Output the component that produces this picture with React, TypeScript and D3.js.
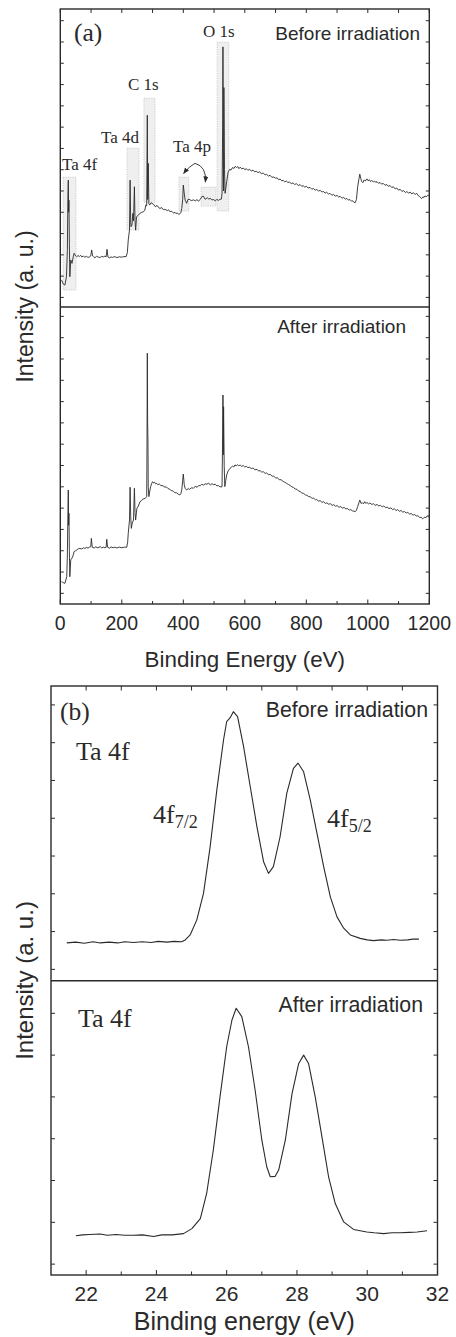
import React from 'react';
import * as d3 from 'd3';

type Pt = [number, number];

// ---------- (a) survey spectra: [binding energy eV, intensity a.u.] ----------
const surveyBefore: Pt[] = [
  [4,1.82],[10,1.62],[15,1.58],[20,1.97],[23,3.2],[24.5,5.5],[26,6.51],[27,5.0],[28,5.57],[29.5,3.5],[31,1.97],
  [34,2.76],[38,2.60],[42,2.9],[45,3.07],[50,2.95],[53,2.91],[58,2.97],[62,2.92],[66,2.98],[70,2.90],[75,2.94],
  [80,2.89],[85,2.93],[90,2.88],[96,2.91],[99,2.95],[102,3.23],[105,2.95],[108,2.91],[113,2.87],[118,2.93],
  [124,2.89],[130,2.88],[135,2.93],[140,2.9],[145,2.94],[149,2.91],[152,3.26],[155,2.9],[160,2.86],[165,2.9],
  [170,2.88],[177,2.92],[184,2.87],[192,2.91],[200,2.89],[207,2.92],[214,2.91],[218,3.1],[221,3.70],[225,4.16],
  [227,6.51],[229,4.5],[230,4.32],[233,4.4],[236,4.95],[238,4.6],[241,6.20],[243,4.6],[245,4.16],[248,4.79],
  [253,4.85],[259,4.95],[265,5.0],[270,5.02],[275,5.1],[278,5.34],[281,5.3],[283,9.56],[284,5.6],[286,7.30],
  [288,5.4],[291,5.34],[295,5.45],[298,5.42],[303,5.38],[309,5.26],[315,5.32],[320,5.22],[324,5.18],[330,5.22],
  [335,5.12],[340,5.14],[348,5.08],[352,5.12],[357,5.02],[361,5.06],[365,5.0],[369,4.96],[373,5.0],[377,4.93],
  [380,4.98],[385,4.9],[389,4.93],[392,4.98],[395,5.18],[398,5.6],[400,6.28],[403,5.9],[406,5.57],[411,5.42],
  [415,5.6],[419,5.61],[426,5.55],[433,5.58],[440,5.54],[445,5.6],[449,5.52],[455,5.6],[460,5.73],[465,5.76],
  [471,5.61],[478,5.68],[483,5.62],[487,5.66],[493,5.58],[498,5.6],[504,5.54],[509,5.6],[515,5.56],[519,5.61],
  [524,5.62],[526,5.89],[528,9.0],[529,12.77],[530,8.0],[531,6.0],[532,10.86],[534,7.0],[536,5.89],[541,6.43],
  [546,6.90],[551,7.02],[555,6.98],[560,7.1],[565,7.06],[569,7.16],[573,7.1],[577,7.15],[581,7.05],[585,7.12],
  [590,7.04],[595,7.08],[600,7.0],[605,7.05],[610,6.97],[615,7.02],[621,6.94],[627,6.98],[632,6.9],[637,6.93],
  [643,6.86],[648,6.9],[654,6.82],[660,6.84],[666,6.76],[671,6.78],[677,6.7],[682,6.74],[688,6.64],[694,6.66],
  [700,6.6],[705,6.62],[710,6.53],[715,6.56],[720,6.48],[725,6.5],[730,6.43],[735,6.47],[740,6.4],[745,6.42],
  [751,6.35],[757,6.38],[762,6.31],[768,6.34],[774,6.26],[780,6.3],[785,6.22],[790,6.25],[795,6.18],[800,6.22],
  [806,6.14],[812,6.17],[818,6.08],[823,6.12],[829,6.04],[834,6.07],[840,6.0],[845,6.03],[851,5.95],[856,5.98],
  [861,5.9],[866,5.94],[872,5.86],[877,5.89],[883,5.8],[888,5.84],[894,5.76],[900,5.79],[905,5.72],[910,5.75],
  [916,5.66],[921,5.7],[927,5.62],[932,5.65],[937,5.57],[942,5.6],[947,5.52],[951,5.54],[955,5.47],[959,5.45],
  [963,5.6],[967,6.20],[971,6.55],[974,6.79],[977,6.6],[980,6.45],[984,6.39],[988,6.52],[992,6.47],[997,6.57],
  [1001,6.48],[1005,6.53],[1009,6.44],[1013,6.5],[1018,6.42],[1022,6.47],[1026,6.4],[1030,6.44],[1035,6.36],
  [1040,6.4],[1045,6.32],[1050,6.36],[1056,6.27],[1062,6.3],[1067,6.22],[1072,6.26],[1078,6.16],[1083,6.2],
  [1089,6.1],[1094,6.14],[1100,6.04],[1105,6.08],[1111,5.98],[1116,6.02],[1122,5.93],[1127,5.97],[1133,5.9],
  [1138,5.95],[1143,5.86],[1148,5.92],[1154,5.84],[1159,5.89],[1164,5.78],[1168,5.75],[1172,5.68],[1175,5.64],
  [1179,5.72],[1183,5.7],[1186,5.77],[1190,5.73],[1195,5.79],[1200,5.81],
];

const surveyAfter: Pt[] = [
  [4,1.55],[10,1.5],[15,1.47],[21,1.78],[23,2.8],[24.5,4.5],[26,5.85],[27,4.2],[28,4.76],[29.5,3.0],[31,1.78],
  [34,2.57],[40,2.7],[45,2.96],[50,3.0],[55,3.05],[60,3.1],[64,3.11],[70,3.08],[75,3.14],[80,3.11],[86,3.16],
  [90,3.12],[95,3.17],[99,3.19],[101,3.58],[104,3.16],[110,3.13],[115,3.18],[122,3.14],[130,3.19],[135,3.13],
  [140,3.17],[145,3.14],[149,3.16],[151,3.54],[154,3.16],[160,3.12],[165,3.18],[172,3.14],[178,3.17],[184,3.13],
  [192,3.17],[200,3.14],[208,3.17],[216,3.16],[219,3.4],[221,3.82],[225,4.44],[227,5.98],[229,4.6],[231,4.05],
  [234,4.3],[238,4.44],[241,5.93],[243,4.8],[245,4.44],[249,4.99],[254,5.1],[259,5.30],[264,5.35],[268,5.42],
  [272,5.44],[276,5.46],[281,5.54],[282,8.0],[283,12.27],[284,9.0],[285,8.20],[286,6.0],[288,5.54],[291,5.8],
  [294,6.01],[297,6.15],[300,6.24],[303,6.18],[306,6.22],[310,6.14],[313,6.17],[317,6.1],[322,6.13],[327,6.06],
  [334,6.05],[340,5.98],[345,6.0],[350,5.92],[356,5.88],[362,5.82],[367,5.8],[372,5.73],[378,5.72],[384,5.65],
  [389,5.62],[392,5.68],[395,5.85],[398,6.3],[400,6.60],[403,6.1],[406,5.93],[411,5.85],[416,5.92],[420,5.88],
  [426,5.95],[433,5.94],[439,6.02],[445,5.98],[450,6.06],[455,6.05],[460,6.12],[466,6.08],[471,6.14],[477,6.12],
  [482,6.18],[488,6.08],[493,6.15],[498,6.1],[504,6.12],[509,6.04],[514,6.06],[519,6.0],[526,6.0],[528,8.5],
  [529,10.31],[530,7.5],[531,9.76],[533,7.0],[535,6.01],[538,6.3],[541,6.56],[546,6.75],[552,6.87],[556,6.92],
  [560,6.97],[564,6.93],[568,7.03],[572,6.98],[576,7.04],[580,6.99],[585,7.02],[590,6.96],[595,7.0],[600,6.93],
  [605,6.96],[610,6.9],[615,6.92],[621,6.86],[627,6.88],[633,6.8],[640,6.82],[645,6.74],[650,6.76],[655,6.69],
  [660,6.71],[666,6.63],[671,6.65],[677,6.57],[683,6.58],[689,6.5],[694,6.5],[700,6.42],[706,6.42],[712,6.34],
  [718,6.33],[725,6.25],[730,6.22],[736,6.16],[742,6.11],[748,6.06],[753,6.0],[758,5.97],[764,5.9],[770,5.88],
  [775,5.8],[780,5.78],[786,5.7],[791,5.69],[797,5.62],[802,5.6],[808,5.54],[813,5.53],[819,5.46],[824,5.47],
  [830,5.39],[834,5.4],[840,5.33],[845,5.35],[851,5.27],[856,5.3],[862,5.22],[867,5.25],[873,5.18],[878,5.21],
  [884,5.13],[889,5.16],[895,5.09],[900,5.12],[906,5.04],[912,5.07],[918,5.0],[923,5.03],[929,4.96],[934,4.98],
  [940,4.91],[945,4.93],[950,4.87],[955,4.86],[959,4.83],[963,4.9],[967,5.07],[971,5.25],[974,5.38],[978,5.22],
  [982,5.26],[986,5.2],[990,5.3],[994,5.22],[997,5.27],[1002,5.2],[1007,5.24],[1013,5.17],[1018,5.21],[1024,5.13],
  [1030,5.17],[1036,5.1],[1041,5.13],[1047,5.06],[1052,5.1],[1058,5.02],[1063,5.05],[1069,4.98],[1075,5.01],
  [1081,4.93],[1086,4.97],[1092,4.89],[1097,4.93],[1103,4.85],[1108,4.89],[1114,4.81],[1119,4.84],[1125,4.77],
  [1130,4.8],[1136,4.72],[1141,4.75],[1147,4.67],[1152,4.7],[1158,4.63],[1163,4.64],[1169,4.56],[1174,4.57],
  [1178,4.5],[1181,4.52],[1185,4.58],[1189,4.55],[1193,4.64],[1197,4.6],[1200,4.68],
];

// ---------- (b) Ta 4f core level: [binding energy eV, intensity a.u.] ----------
const ta4fBefore: Pt[] = [
  [21.45,1.70],[21.7,1.72],[21.95,1.69],[22.2,1.73],[22.4,1.70],[22.65,1.72],[22.9,1.70],[23.1,1.73],[23.35,1.71],
  [23.6,1.73],[23.85,1.71],[24.05,1.74],[24.3,1.72],[24.5,1.74],[24.72,1.73],[24.82,1.78],[24.96,1.91],[25.15,2.31],
  [25.34,3.01],[25.53,4.25],[25.72,5.75],[25.91,7.07],[26.0,7.56],[26.1,7.66],[26.19,7.82],[26.31,7.69],[26.48,6.90],
  [26.67,5.84],[26.86,4.78],[27.05,3.85],[27.19,3.54],[27.33,3.72],[27.52,4.51],[27.71,5.66],[27.9,6.32],[28.03,6.46],
  [28.19,6.23],[28.38,5.48],[28.57,4.60],[28.76,3.72],[28.95,2.92],[29.14,2.39],[29.33,2.09],[29.52,1.91],[29.8,1.82],
  [30.0,1.78],[30.18,1.76],[30.4,1.78],[30.56,1.77],[30.75,1.79],[30.94,1.77],[31.15,1.78],[31.3,1.80],[31.47,1.80],
];

const ta4fAfter: Pt[] = [
  [21.71,1.68],[21.9,1.70],[22.1,1.71],[22.4,1.72],[22.6,1.69],[22.85,1.71],[23.1,1.69],[23.35,1.69],[23.6,1.70],
  [23.92,1.66],[24.15,1.70],[24.45,1.70],[24.77,1.73],[25.01,1.85],[25.25,2.09],[25.43,2.69],[25.62,3.73],[25.81,5.00],
  [26.0,6.20],[26.15,6.84],[26.27,7.12],[26.43,6.92],[26.62,6.20],[26.81,5.16],[27.0,3.97],[27.14,3.33],[27.24,3.09],
  [27.38,3.10],[27.48,3.25],[27.67,3.97],[27.86,5.08],[28.05,5.80],[28.19,6.00],[28.33,5.80],[28.52,5.00],[28.71,4.05],
  [28.9,3.09],[29.09,2.45],[29.33,2.01],[29.61,1.83],[29.99,1.77],[30.2,1.75],[30.47,1.73],[30.7,1.75],[30.94,1.75],
  [31.2,1.76],[31.42,1.77],[31.7,1.80],
];

// ---------- ticks ----------
const surveyMajorTicks = [0, 200, 400, 600, 800, 1000, 1200];
const surveyMinorTicks = [100, 300, 500, 700, 900, 1100];
const surveyYTicks = [1, 2, 3, 4, 5, 6, 7, 8, 9, 10, 11, 12, 13, 14];
const ta4fMajorTicks = [22, 24, 26, 28, 30, 32];
const ta4fMinorTicks = [23, 25, 27, 29, 31];
const ta4fYTicksTop = [1, 2, 3, 4, 5, 6, 7, 8];
const ta4fYTicksBottom = [1, 2, 3, 4, 5, 6, 7];

// ---------- annotations (data units of panel a, top) ----------
const peakBoxes = [
  { name: 'Ta 4f', e0: 9, e1: 51, v0: 1.35, v1: 6.65 },
  { name: 'Ta 4d', e0: 217, e1: 256, v0: 4.17, v1: 8.01 },
  { name: 'C 1s', e0: 272, e1: 308, v0: 5.48, v1: 10.36 },
  { name: 'Ta 4p a', e0: 386, e1: 418, v0: 5.06, v1: 6.65 },
  { name: 'Ta 4p b', e0: 458, e1: 506, v0: 5.29, v1: 6.18 },
  { name: 'O 1s', e0: 510, e1: 548, v0: 5.06, v1: 12.99 },
];
const peakLabels = [
  { text: 'Ta 4f', x: 62, y: 170 },
  { text: 'Ta 4d', x: 101, y: 143 },
  { text: 'C 1s', x: 128, y: 90 },
  { text: 'Ta 4p', x: 173, y: 152 },
  { text: 'O 1s', x: 203, y: 37 },
];
const arrowApex: Pt = [438, 7.3];
const arrowLeftEnd: Pt = [401, 6.82];
const arrowRightCtrl: Pt = [476, 7.15];
const arrowRightEnd: Pt = [472, 6.42];

const SANS = '"Liberation Sans", Arial, sans-serif';
const SERIF = '"Liberation Serif", "Times New Roman", serif';
const INK = '#2a2a2a';

type SubProps = {
  x: d3.ScaleLinear<number, number>;
  y: d3.ScaleLinear<number, number>;
  data: Pt[];
  yTicks: number[];
  major: number[];
  minor: number[];
  top: number;
  bottom: number;
  left: number;
  right: number;
  topTicks: boolean;
  bottomTicks: boolean;
  yTickLen: number;
  majLen: number;
  minLen: number;
  lineWidth: number;
};

function SubPlot(p: SubProps) {
  const line = d3
    .line<Pt>()
    .x((d) => p.x(d[0]))
    .y((d) => p.y(d[1]));
  const allX = [...p.major, ...p.minor];
  return (
    <g>
      <path d={line(p.data) || ''} fill="none" stroke={INK} strokeWidth={p.lineWidth} strokeLinejoin="round" />
      {p.yTicks.map((t) => (
        <g key={'y' + t}>
          <line x1={p.left} x2={p.left + p.yTickLen} y1={p.y(t)} y2={p.y(t)} stroke={INK} strokeWidth={1} />
          <line x1={p.right - p.yTickLen} x2={p.right} y1={p.y(t)} y2={p.y(t)} stroke={INK} strokeWidth={1} />
        </g>
      ))}
      {p.topTicks &&
        allX.map((t) => (
          <line key={'t' + t} x1={p.x(t)} x2={p.x(t)} y1={p.top} y2={p.top + p.minLen + 1} stroke={INK} strokeWidth={1} />
        ))}
      {p.bottomTicks &&
        p.major.map((t) => (
          <line key={'M' + t} x1={p.x(t)} x2={p.x(t)} y1={p.bottom} y2={p.bottom - p.majLen} stroke={INK} strokeWidth={1} />
        ))}
      {p.bottomTicks &&
        p.minor.map((t) => (
          <line key={'m' + t} x1={p.x(t)} x2={p.x(t)} y1={p.bottom} y2={p.bottom - p.minLen} stroke={INK} strokeWidth={1} />
        ))}
    </g>
  );
}

export default function App() {
  const W = 456;
  const H = 1337;

  // panel (a)
  const aL = 60.3, aR = 429.3, aT = 9, aM = 307, aB = 604;
  const ax = d3.scaleLinear().domain([0, 1200]).range([aL, aR]);
  const ayTop = d3.scaleLinear().domain([0.55, 14.55]).range([aM, aT]);
  const ayBot = d3.scaleLinear().domain([0.5, 14.44]).range([aB, aM]);

  // panel (b)
  const bL = 51, bR = 437.5, bT = 686, bM = 980.7, bB = 1275;
  const bx = d3.scaleLinear().domain([21, 32]).range([bL, bR]);
  const byTop = d3.scaleLinear().domain([0.7, 8.5]).range([bM, bT]);
  const byBot = d3.scaleLinear().domain([0.74, 7.78]).range([bB, bM]);

  const frameW = 1.4;

  return (
    <div style={{ position: 'absolute', left: 0, top: 0 }}>
      <svg width={W} height={H} viewBox={`0 0 ${W} ${H}`} style={{ display: 'block', background: '#fff' }}>
        <defs>
          <marker id="ah" viewBox="0 0 10 10" refX="9" refY="5" markerWidth="7" markerHeight="7" orient="auto-start-reverse">
            <path d="M0,1 L10,5 L0,9 Z" fill={INK} />
          </marker>
        </defs>

        {/* ---- panel (a) boxes ---- */}
        {peakBoxes.map((b) => (
          <rect
            key={b.name}
            x={ax(b.e0)}
            y={ayTop(b.v1)}
            width={ax(b.e1) - ax(b.e0)}
            height={ayTop(b.v0) - ayTop(b.v1)}
            fill="#efefef"
            stroke="#c4c4c4"
            strokeWidth={0.8}
            strokeDasharray="1.2,1.2"
          />
        ))}

        <SubPlot x={ax} y={ayTop} data={surveyBefore} yTicks={surveyYTicks} major={surveyMajorTicks} minor={surveyMinorTicks}
          top={aT} bottom={aM} left={aL} right={aR} topTicks={true} bottomTicks={false} yTickLen={3.5} majLen={4.5} minLen={3} lineWidth={0.9} />
        <SubPlot x={ax} y={ayBot} data={surveyAfter} yTicks={surveyYTicks} major={surveyMajorTicks} minor={surveyMinorTicks}
          top={aM} bottom={aB} left={aL} right={aR} topTicks={false} bottomTicks={true} yTickLen={3.5} majLen={4.5} minLen={3} lineWidth={0.9} />

        <rect x={aL} y={aT} width={aR - aL} height={aB - aT} fill="none" stroke={INK} strokeWidth={frameW} />
        <line x1={aL} x2={aR} y1={aM} y2={aM} stroke={INK} strokeWidth={frameW} />

        {/* arrows */}
        <path
          d={`M${ax(arrowApex[0])},${ayTop(arrowApex[1])} Q${ax(arrowApex[0]) - 6},${ayTop(arrowApex[1]) + 3} ${ax(arrowLeftEnd[0])},${ayTop(arrowLeftEnd[1])}`}
          fill="none" stroke={INK} strokeWidth={0.9} markerEnd="url(#ah)" />
        <path
          d={`M${ax(arrowApex[0])},${ayTop(arrowApex[1])} Q${ax(arrowRightCtrl[0])},${ayTop(arrowRightCtrl[1])} ${ax(arrowRightEnd[0])},${ayTop(arrowRightEnd[1])}`}
          fill="none" stroke={INK} strokeWidth={0.9} markerEnd="url(#ah)" />

        {peakLabels.map((l) => (
          <text key={l.text} x={l.x} y={l.y} fontFamily={SERIF} fontSize={17} fill={INK}>{l.text}</text>
        ))}
        <text x={74} y={41} fontFamily={SERIF} fontSize={25.5} fill={INK}>(a)</text>
        <text x={420} y={40} fontFamily={SANS} fontSize={19} fill={INK} textAnchor="end">Before irradiation</text>
        <text x={406} y={333} fontFamily={SANS} fontSize={19} fill={INK} textAnchor="end">After irradiation</text>

        {surveyMajorTicks.map((t) => (
          <text key={'al' + t} x={ax(t)} y={630} fontFamily={SANS} fontSize={19.5} fill={INK} textAnchor="middle">{t}</text>
        ))}
        <text x={(aL + aR) / 2} y={667} fontFamily={SANS} fontSize={22.4} fill={INK} textAnchor="middle">Binding Energy (eV)</text>
        <text transform={`translate(33,${(aT + aB) / 2}) rotate(-90)`} fontFamily={SANS} fontSize={23} fill={INK} textAnchor="middle">Intensity (a. u.)</text>

        {/* ---- panel (b) ---- */}
        <SubPlot x={bx} y={byTop} data={ta4fBefore} yTicks={ta4fYTicksTop} major={ta4fMajorTicks} minor={ta4fMinorTicks}
          top={bT} bottom={bM} left={bL} right={bR} topTicks={true} bottomTicks={false} yTickLen={4} majLen={5} minLen={3.5} lineWidth={1.1} />
        <SubPlot x={bx} y={byBot} data={ta4fAfter} yTicks={ta4fYTicksBottom} major={ta4fMajorTicks} minor={ta4fMinorTicks}
          top={bM} bottom={bB} left={bL} right={bR} topTicks={false} bottomTicks={true} yTickLen={4} majLen={5} minLen={3.5} lineWidth={1.1} />

        <rect x={bL} y={bT} width={bR - bL} height={bB - bT} fill="none" stroke={INK} strokeWidth={frameW} />
        <line x1={bL} x2={bR} y1={bM} y2={bM} stroke={INK} strokeWidth={frameW} />

        <text x={60} y={720} fontFamily={SERIF} fontSize={25.5} fill={INK}>(b)</text>
        <text x={428} y={717} fontFamily={SANS} fontSize={21.3} fill={INK} textAnchor="end">Before irradiation</text>
        <text x={76} y={760} fontFamily={SERIF} fontSize={26} fill={INK}>Ta 4f</text>
        <text x={153} y={823} fontFamily={SERIF} fontSize={26} fill={INK}>
          4f<tspan dy={5} fontSize={18}>7/2</tspan>
        </text>
        <text x={327} y={827} fontFamily={SERIF} fontSize={26} fill={INK}>
          4f<tspan dy={5} fontSize={18}>5/2</tspan>
        </text>
        <text x={423} y={1012} fontFamily={SANS} fontSize={21.3} fill={INK} textAnchor="end">After irradiation</text>
        <text x={78} y={1027} fontFamily={SERIF} fontSize={26} fill={INK}>Ta 4f</text>

        {ta4fMajorTicks.map((t) => (
          <text key={'bl' + t} x={bx(t)} y={1301} fontFamily={SANS} fontSize={21} fill={INK} textAnchor="middle">{t}</text>
        ))}
        <text x={(bL + bR) / 2} y={1330} fontFamily={SANS} fontSize={25} fill={INK} textAnchor="middle">Binding energy (eV)</text>
        <text transform={`translate(33,${(bT + bB) / 2}) rotate(-90)`} fontFamily={SANS} fontSize={24} fill={INK} textAnchor="middle">Intensity (a. u.)</text>
      </svg>
    </div>
  );
}
